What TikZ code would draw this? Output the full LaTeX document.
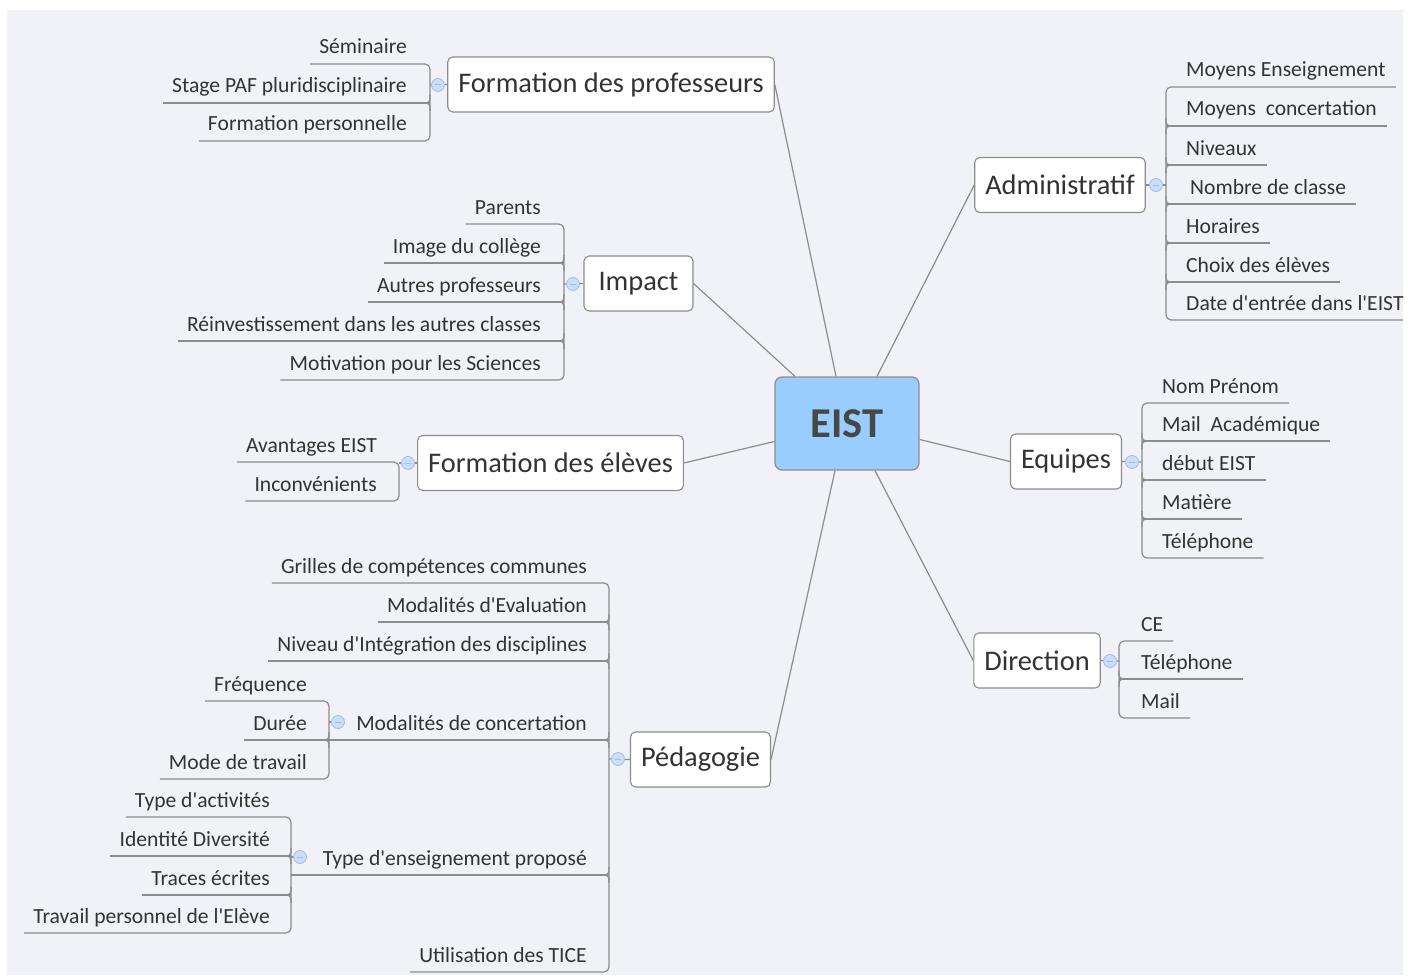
\documentclass[tikz,border=0pt]{standalone}
\usepackage{fontspec}
\setmainfont{Carlito}[Ligatures=TeXOff]
\usepackage{tikz}
\usetikzlibrary{calc}

\definecolor{paper}{RGB}{241,242,248}
\definecolor{ink}{RGB}{51,51,51}
\definecolor{wire}{RGB}{140,140,140}
\definecolor{rootblue}{RGB}{153,204,255}
\definecolor{foldfill}{RGB}{204,221,247}
\definecolor{folddraw}{RGB}{160,188,232}

\tikzset{
  root/.style={draw=wire, fill=rootblue, rounded corners=7pt, line width=1.2pt,
    minimum width=144pt, minimum height=93pt, text=ink!90,
    font=\fontsize{42.5}{42.5}\selectfont\bfseries},
  topic/.style={draw=wire, fill=white, rounded corners=5pt, line width=1.1pt,
    minimum height=55pt, inner xsep=10.5pt, text=ink,
    font=\fontsize{28.4}{28.4}\selectfont},
  leaf/.style={inner sep=0pt, text=ink, font=\fontsize{21.6}{21.6}\selectfont},
  tree/.style={draw=wire, line width=1.2pt},
  fold/.style={circle, draw=folddraw, fill=foldfill, minimum size=13pt,
    inner sep=0pt, line width=0.8pt,
    path picture={\draw[folddraw, line width=1pt]
      ([xshift=-3pt]path picture bounding box.center) --
      ([xshift=3pt]path picture bounding box.center);}}
}

% leaves: name, text edge x, underline y, text
\newcommand{\leafl}[4]{\node[leaf, anchor=base east] (#1) at (#2,#3-10) {#4};}
\newcommand{\leafr}[4]{\node[leaf, anchor=base west] (#1) at (#2,#3-10) {#4};}
% rounded tee where a middle leaf meets its spine
\newcommand{\bumpl}[2]{\draw[tree, rounded corners=4pt] (#1,#2-8) -- (#1,#2) -- (#1-8,#2) (#1,#2+8) -- (#1,#2) -- (#1-8,#2);}
\newcommand{\bumpr}[2]{\draw[tree, rounded corners=4pt] (#1,#2-8) -- (#1,#2) -- (#1+8,#2) (#1,#2+8) -- (#1,#2) -- (#1+8,#2);}

\begin{document}
\begin{tikzpicture}[x=1pt, y=-1pt]
\useasboundingbox (0,0) rectangle (1413,979);
\fill[paper] (7,10) rectangle (1403,975);
\clip (7,10) rectangle (1403,975);

% centre
\node[root] (eist) at (847,423.5) {EIST};

% main topics
\node[topic] (fprof) at (611,84.5) {Formation des professeurs};
\node[topic, minimum width=109pt] (impact) at (638.5,283.5) {Impact};
\node[topic] (feleves) at (550.5,463) {Formation des élèves};
\node[topic] (peda) at (700.5,759.5) {Pédagogie};
\node[topic] (admin) at (1060,185) {Administratif};
\node[topic] (equipes) at (1066,461.5) {Equipes};
\node[topic] (direction) at (1037,660.5) {Direction};

\draw[tree] ($(eist.north)+(-11,0)$) -- (fprof.east);
\draw[tree] ($(eist.north)+(-52,0)$) -- (impact.east);
\draw[tree] ($(eist.west)+(0,18)$) -- (feleves.east);
\draw[tree] ($(eist.south)+(-12,0)$) -- (peda.east);
\draw[tree] ($(eist.north)+(30,0)$) -- (admin.west);
\draw[tree] ($(eist.east)+(0,16)$) -- (equipes.west);
\draw[tree] ($(eist.south)+(28,0)$) -- (direction.west);

% Formation des professeurs
\leafl{semi}{407}{64}{Séminaire}
\leafl{paf}{407}{103}{Stage PAF pluridisciplinaire}
\leafl{fperso}{407}{141}{Formation personnelle}
\draw[tree] (fprof.west) -- (430,85);
\draw[tree, rounded corners=5pt] ($(semi.base west)+(-9,10)$) -- (430,64) -- (430,141) -- ($(fperso.base west)+(-9,10)$);
\draw[tree] ($(paf.base west)+(-9,10)$) -- (430,103);
\bumpl{430}{103}
\node[fold] (fproff) at (438,85) {};

% Impact
\leafl{parents}{541}{224}{Parents}
\leafl{image}{541}{263}{Image du collège}
\leafl{autres}{541}{302}{Autres professeurs}
\leafl{reinv}{541}{341}{Réinvestissement dans les autres classes}
\leafl{motiv}{541}{380}{Motivation pour les Sciences}
\draw[tree] (impact.west) -- (564,284);
\draw[tree, rounded corners=5pt] ($(parents.base west)+(-9,10)$) -- (564,224) -- (564,380) -- ($(motiv.base west)+(-9,10)$);
\foreach \n/\y in {image/263, autres/302, reinv/341} {
  \draw[tree] ($(\n.base west)+(-9,10)$) -- (564,\y);
  \bumpl{564}{\y}
}
\node[fold] (impactf) at (573,284) {};

% Formation des eleves
\leafl{avant}{377}{462}{Avantages EIST}
\leafl{incon}{377}{501}{Inconvénients}
\draw[tree] (feleves.west) -- (399,463);
\draw[tree, rounded corners=5pt] ($(avant.base west)+(-9,10)$) -- (399,462) -- (399,501) -- ($(incon.base west)+(-9,10)$);
\node[fold] (felevesf) at (408,463) {};

% Pedagogie
\leafl{grilles}{587}{583}{Grilles de compétences communes}
\leafl{modeval}{587}{622}{Modalités d'Evaluation}
\leafl{niveau}{587}{661}{Niveau d'Intégration des disciplines}
\leafl{modconc}{587}{740}{Modalités de concertation}
\leafl{typens}{587}{875}{Type d'enseignement proposé}
\leafl{tice}{587}{972}{Utilisation des TICE}
\draw[tree] (peda.west) -- (609,759);
\draw[tree, rounded corners=5pt] ($(grilles.base west)+(-9,10)$) -- (609,583) -- (609,972) -- ($(tice.base west)+(-9,10)$);
\foreach \n/\y in {modeval/622, niveau/661} {
  \draw[tree] ($(\n.base west)+(-9,10)$) -- (609,\y);
}
\draw[tree] (329,740) -- (609,740);
\draw[tree] (291,875) -- (609,875);
\foreach \y in {622,661,740,875} {\bumpl{609}{\y}}
\node[fold] (pedaf) at (618,759) {};

% Modalites de concertation
\leafl{freq}{307}{701}{Fréquence}
\leafl{duree}{307}{740}{Durée}
\leafl{mode}{307}{779}{Mode de travail}
\draw[tree, rounded corners=5pt] ($(freq.base west)+(-9,10)$) -- (329,701) -- (329,779) -- ($(mode.base west)+(-9,10)$);
\draw[tree] ($(duree.base west)+(-9,10)$) -- (329,740);
\bumpl{329}{740}
\draw[tree] (329,722) -- (338,722);
\node[fold] (modconcf) at (338,722) {};

% Type d'enseignement propose
\leafl{typact}{270}{817}{Type d'activités}
\leafl{ident}{270}{856}{Identité Diversité}
\leafl{traces}{270}{895}{Traces écrites}
\leafl{travail}{270}{933}{Travail personnel de l'Elève}
\draw[tree, rounded corners=5pt] ($(typact.base west)+(-9,10)$) -- (291,817) -- (291,933) -- ($(travail.base west)+(-9,10)$);
\foreach \n/\y in {ident/856, traces/895} {
  \draw[tree] ($(\n.base west)+(-9,10)$) -- (291,\y);
  \bumpl{291}{\y}
}
\draw[tree] (291,857) -- (300,857);
\node[fold] (typensf) at (300,857) {};

% Administratif
\leafr{moyens}{1186}{87}{Moyens Enseignement}
\leafr{moyconc}{1186}{126}{Moyens\ \ concertation}
\leafr{niveaux}{1186}{165}{Niveaux}
\leafr{nombre}{1190}{204}{Nombre de classe}
\leafr{horaires}{1186}{243}{Horaires}
\leafr{choix}{1186}{282}{Choix des élèves}
\leafr{date}{1186}{320}{Date d'entrée dans l'EIST}
\draw[tree] (admin.east) -- (1166,185);
\draw[tree, rounded corners=5pt] ($(moyens.base east)+(10,10)$) -- (1166,87) -- (1166,320) -- ($(date.base east)+(10,10)$);
\foreach \n/\y in {moyconc/126, niveaux/165, nombre/204, horaires/243, choix/282} {
  \draw[tree] ($(\n.base east)+(10,10)$) -- (1166,\y);
  \bumpr{1166}{\y}
}
\node[fold] (adminf) at (1156,185) {};

% Equipes
\leafr{nom}{1162}{403}{Nom Prénom}
\leafr{mail}{1162}{441}{Mail\ \ Académique}
\leafr{debut}{1162}{480}{début EIST}
\leafr{matiere}{1162}{519}{Matière}
\leafr{tel}{1162}{558}{Téléphone}
\draw[tree] (equipes.east) -- (1142,462);
\draw[tree, rounded corners=5pt] ($(nom.base east)+(10,10)$) -- (1142,403) -- (1142,558) -- ($(tel.base east)+(10,10)$);
\foreach \n/\y in {mail/441, debut/480, matiere/519} {
  \draw[tree] ($(\n.base east)+(10,10)$) -- (1142,\y);
  \bumpr{1142}{\y}
}
\node[fold] (equipesf) at (1132,462) {};

% Direction
\leafr{ce}{1141}{641}{CE}
\leafr{dtel}{1141}{679}{Téléphone}
\leafr{dmail}{1141}{718}{Mail}
\draw[tree] (direction.east) -- (1119,661);
\draw[tree, rounded corners=5pt] ($(ce.base east)+(10,10)$) -- (1119,641) -- (1119,718) -- ($(dmail.base east)+(10,10)$);
\draw[tree] ($(dtel.base east)+(10,10)$) -- (1119,679);
\bumpr{1119}{679}
\node[fold] (directionf) at (1110,661) {};
\end{tikzpicture}
\end{document}
